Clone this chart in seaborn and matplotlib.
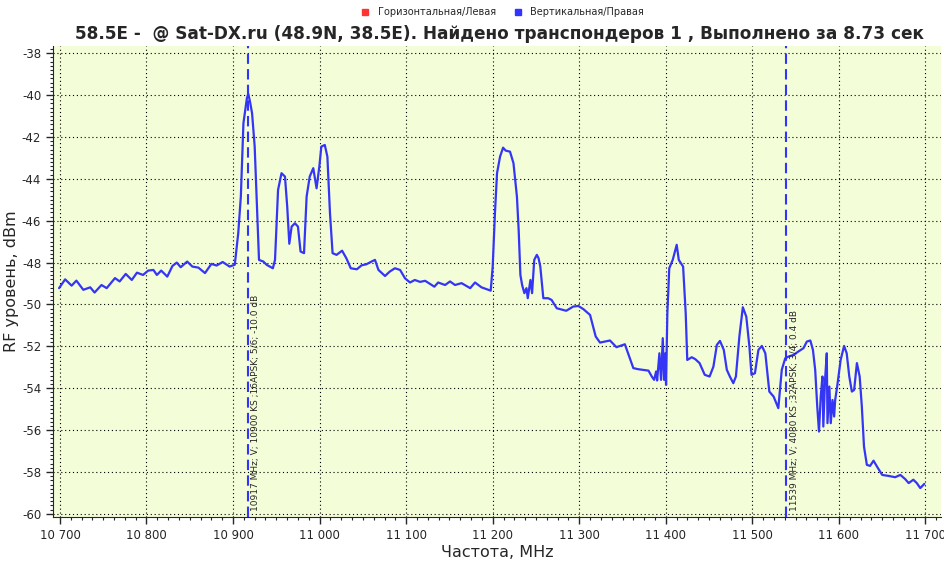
import seaborn as sns
import matplotlib.pyplot as plt
import pandas as pd
from matplotlib.lines import Line2D
from matplotlib.ticker import MultipleLocator, FuncFormatter

# spectrum trace, vertical polarisation (MHz, dBm)
freq = [10699, 10706, 10713.5, 10719, 10727, 10735, 10740, 10748, 10754, 10763.6,
        10769, 10776, 10783, 10789, 10796, 10802, 10808, 10812, 10817, 10824,
        10830, 10835, 10839.5, 10847, 10853, 10860, 10867.6, 10875, 10881, 10888,
        10896, 10902, 10906, 10909, 10912, 10916, 10917.6, 10919.6, 10922, 10925,
        10928, 10930, 10935, 10939, 10946, 10948.5, 10952, 10956, 10960, 10962.6,
        10965, 10967.7, 10971.5, 10975, 10978, 10982, 10985, 10988.6, 10992.7, 10996.5,
        10999.7, 11002, 11006, 11009, 11012, 11015, 11019.6, 11026, 11031, 11036,
        11043, 11048.5, 11054, 11060, 11064, 11068, 11075.6, 11081, 11087, 11093,
        11098.7, 11104.5, 11110, 11116, 11122, 11127.6, 11132.6, 11137, 11145, 11150.7,
        11156.5, 11164, 11174, 11179.6, 11187, 11193, 11197.7, 11200, 11202.6, 11205,
        11208.5, 11212, 11215, 11220, 11224, 11228, 11230, 11232, 11234, 11236.6,
        11239, 11240.5, 11243.6, 11245.5, 11248, 11251, 11253, 11255, 11258.5, 11264,
        11268, 11274, 11285, 11293, 11299, 11305, 11312.5, 11319, 11324, 11335.5,
        11343, 11352.7, 11362.5, 11368, 11380, 11383.8, 11386.5, 11388.8, 11390, 11392.6,
        11394.5, 11396.5, 11398, 11399.5, 11400.3, 11401.8, 11404, 11408, 11412.6, 11415,
        11420, 11423, 11424.8, 11430, 11434, 11439, 11445, 11450.6, 11455, 11459,
        11462.6, 11467, 11470.5, 11474, 11478, 11481, 11485, 11489, 11493, 11496.6,
        11499, 11503, 11507, 11511, 11515, 11519.6, 11524.6, 11530, 11534, 11538,
        11541.7, 11547.5, 11553, 11559, 11563, 11567, 11570, 11572.6, 11575, 11577,
        11579, 11581, 11582, 11584, 11586, 11586.8, 11589, 11590.6, 11592.6, 11594.5,
        11595.7, 11598, 11602, 11606, 11609, 11612, 11615, 11617.6, 11620.8, 11624,
        11626.5, 11629, 11632.3, 11636, 11640, 11644, 11650, 11657.6, 11665, 11671,
        11676.6, 11680.6, 11686, 11690, 11694, 11698.7]
level = [-49.22, -48.80, -49.10, -48.86, -49.30, -49.18, -49.43, -49.07, -49.22, -48.74,
         -48.90, -48.54, -48.83, -48.48, -48.59, -48.38, -48.35, -48.59, -48.38, -48.67,
         -48.16, -48.00, -48.22, -47.95, -48.19, -48.24, -48.50, -48.06, -48.14, -47.97,
         -48.19, -48.10, -46.60, -44.85, -41.34, -40.15, -39.94, -40.31, -40.87, -42.46,
         -45.64, -47.87, -47.95, -48.11, -48.27, -47.87, -44.53, -43.73, -43.89, -45.33,
         -47.10, -46.28, -46.12, -46.28, -47.47, -47.55, -44.85, -43.89, -43.49, -44.45,
         -43.41, -42.46, -42.38, -42.94, -45.64, -47.55, -47.63, -47.43, -47.80, -48.27,
         -48.32, -48.13, -48.08, -47.95, -47.87, -48.35, -48.64, -48.43, -48.27, -48.35,
         -48.75, -48.95, -48.83, -48.92, -48.87, -49.02, -49.15, -48.95, -49.07, -48.90,
         -49.07, -48.98, -49.22, -48.95, -49.18, -49.27, -49.34, -48.19, -45.64, -43.73,
         -42.94, -42.51, -42.65, -42.70, -43.25, -44.85, -46.44, -48.59, -49.07, -49.46,
         -49.22, -49.70, -48.83, -49.46, -47.87, -47.63, -47.79, -48.19, -49.70, -49.70,
         -49.78, -50.18, -50.30, -50.10, -50.07, -50.23, -50.50, -51.53, -51.82, -51.72,
         -52.04, -51.90, -53.04, -53.09, -53.16, -53.44, -53.60, -53.20, -53.63, -52.33,
         -53.60, -51.61, -53.60, -52.33, -53.84, -50.42, -48.27, -47.87, -47.15, -47.87,
         -48.19, -50.42, -52.65, -52.52, -52.61, -52.80, -53.36, -53.44, -52.97, -51.93,
         -51.74, -52.17, -53.12, -53.44, -53.76, -53.44, -51.53, -50.13, -50.58, -52.01,
         -53.36, -53.28, -52.17, -51.98, -52.33, -54.16, -54.40, -54.95, -53.12, -52.57,
         -52.49, -52.41, -52.25, -52.09, -51.77, -51.72, -52.17, -53.12, -54.88, -56.07,
         -54.40, -53.44, -55.83, -53.60, -52.33, -55.67, -53.92, -55.67, -54.56, -55.35,
         -54.56, -53.92, -52.65, -51.98, -52.33, -53.44, -54.16, -54.08, -52.80, -53.44,
         -54.88, -56.79, -57.66, -57.71, -57.46, -57.74, -58.14, -58.19, -58.25, -58.14,
         -58.34, -58.53, -58.37, -58.53, -58.77, -58.57]

# found transponders
tp_freq = [10917, 11539]
tp_label = ["10917 MHz; V; 10900 KS ;16APSK; 5/6; -10.0 dB",
            "11539 MHz; V; 4080 KS ;32APSK; 3/4; 0.4 dB"]

series = ["Горизонтальная/Левая", "Вертикальная/Правая"]
series_colors = ["#ff3333", "#3333ff"]

title = "58.5E -  @ Sat-DX.ru (48.9N, 38.5E). Найдено транспондеров 1 , Выполнено за 8.73 сек"

sns.set_style("ticks")
plt.rcParams["font.family"] = ["DejaVu Sans"]

df = pd.DataFrame({"freq": freq, "level": level})

fig = plt.figure(figsize=(9.45, 5.67), dpi=100)
ax = fig.add_axes([0.0561, 0.0882, 0.9397, 0.8312])
ax.set_facecolor("#f3fdd7")

sns.lineplot(data=df, x="freq", y="level", ax=ax, color="#3535f5",
             linewidth=1.6, estimator=None, sort=False)

for f, lab in zip(tp_freq, tp_label):
    ax.axvline(f, color="#3333ff", linewidth=1.5, dashes=(5, 2.5), zorder=3)
    ax.text(f + 4, -59.85, lab, rotation=90, fontsize=6.5, ha="left", va="bottom")

ax.set_xlim(10692, 11718)
ax.set_ylim(-60.15, -37.64)
ax.xaxis.set_major_locator(MultipleLocator(100))
ax.xaxis.set_minor_locator(MultipleLocator(12.5))
ax.yaxis.set_major_locator(MultipleLocator(2))
ax.yaxis.set_minor_locator(MultipleLocator(0.2))
ax.xaxis.set_major_formatter(FuncFormatter(lambda v, p: f"{int(v):,}".replace(",", " ")))
ax.yaxis.set_major_formatter(FuncFormatter(lambda v, p: f"{int(v)}"))
ax.tick_params(which="major", direction="out", length=5, width=1, labelsize=8.5)
ax.tick_params(which="minor", direction="out", length=2.5, width=0.8)
ax.grid(True, which="major", color="black", linestyle=(0, (1, 2.5)), linewidth=0.8)
for s in ["top", "right"]:
    ax.spines[s].set_visible(False)

ax.set_xlabel("Частота, MHz", fontsize=11.5, labelpad=2)
ax.set_ylabel("RF уровень, dBm", fontsize=11.5, labelpad=2)

fig.text(0.529, 0.94, title, fontsize=12.2, fontweight="bold", ha="center", va="center")

handles = [Line2D([], [], marker="s", linestyle="none", markersize=5,
                  markerfacecolor=c, markeredgecolor=c) for c in series_colors]
fig.legend(handles, series, loc="center", bbox_to_anchor=(0.529, 0.979), ncol=2,
           frameon=False, fontsize=7, handletextpad=0.3, columnspacing=1.2)

fig.savefig("out.png", dpi=100)
